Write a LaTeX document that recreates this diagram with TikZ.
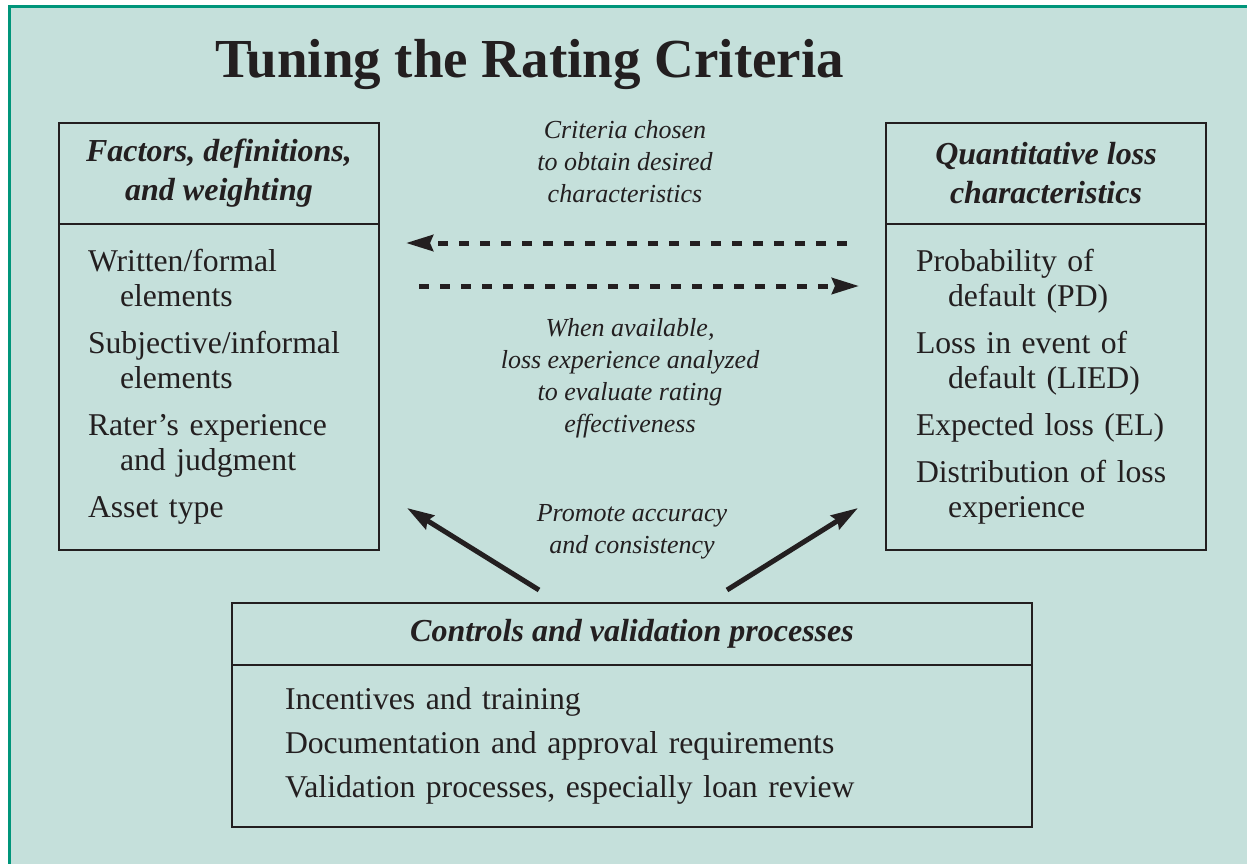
\documentclass[tikz,border=0pt]{standalone}
\usepackage{fontspec}
\setmainfont{Liberation Serif}
\usetikzlibrary{positioning,arrows.meta}

\definecolor{panelbg}{HTML}{C5E0DB}
\definecolor{panelrim}{HTML}{00957A}
\definecolor{ink}{HTML}{231F20}

% one entry of a list, second line hangs in
\newcommand{\listentry}[1]{\hangindent=32pt\hangafter=1 #1\par}
\newcommand{\listgap}[1]{\raggedright\setlength{\parindent}{0pt}\setlength{\parskip}{#1}}

\begin{document}
\begin{tikzpicture}[x=1pt,y=-1pt,
	headbox/.style={
		% The shape:
		rectangle,
		% The border:
		draw=ink, line width=2.6pt, outer sep=0pt,
		% Font
		font=\fontsize{32}{39}\selectfont\bfseries\itshape,
		align=center, text=ink
		},
	listbox/.style={
		rectangle,
		draw=ink, line width=2.6pt, outer sep=0pt,
		font=\fontsize{31.7}{35}\selectfont,
		text=ink
		},
	note/.style={
		font=\fontsize{26}{32}\selectfont\itshape,
		align=center, text=ink
		},
	dasharrow/.style={
		line width=5pt, draw=ink, dash pattern=on 10pt off 11pt,
		-{Stealth[length=27pt,width=16pt,inset=3pt]}
		},
	solidarrow/.style={
		line width=5pt, draw=ink,
		-{Stealth[length=27pt,width=16pt,inset=3pt]}
		}]

	\useasboundingbox (0,0) rectangle (1247,863);
	% panel behind everything
	\fill[panelbg] (9,6) rectangle (1270,880);
	\draw[panelrim, line width=3pt] (1270,6) -- (9,6) -- (9,880);

	\node (title) [anchor=base, text=ink, font=\fontsize{55}{60}\selectfont\bfseries] at (529.5,77) {Tuning the Rating Criteria};

	% left box
	\node (factors) [headbox, minimum width=320pt, minimum height=101pt] at (219,173.5) {Factors, definitions,\\and weighting};
	\node (factorslist) [listbox, below=0pt of factors, minimum width=320pt, minimum height=326pt, text width=262pt, inner xsep=29pt] {\listgap{12pt}%
		\listentry{Written/formal\newline elements}
		\listentry{Subjective/informal\newline elements}
		\listentry{Rater’s experience\newline and judgment}
		\listentry{Asset type}};

	% right box
	\node (quant) [headbox, minimum width=320pt, minimum height=101pt] at (1046,173.5) {Quantitative loss\\characteristics};
	\node (quantlist) [listbox, below=0pt of quant, minimum width=320pt, minimum height=326pt, text width=260pt, inner xsep=30pt] {\listgap{12pt}%
		\listentry{Probability of\newline default (PD)}
		\listentry{Loss in event of\newline default (LIED)}
		\listentry{Expected loss (EL)}
		\listentry{Distribution of loss\newline experience}};

	% bottom box
	\node (controls) [headbox, minimum width=800pt, minimum height=62pt] at (632,634) {Controls and validation processes};
	\node (controlslist) [listbox, below=0pt of controls, minimum width=800pt, minimum height=162pt, text width=694pt, inner xsep=53pt] {\listgap{9pt}%
		\listentry{Incentives and training}
		\listentry{Documentation and approval requirements}
		\listentry{Validation processes, especially loan review}};

	% labels between the boxes
	\node (chosen) [note] at (625,162) {Criteria chosen\\to obtain desired\\characteristics};
	\node (evaluate) [note] at (630,378) {When available,\\loss experience analyzed\\to evaluate rating\\effectiveness};
	\node (promote) [note] at (632,532) {Promote accuracy\\and consistency};

	\path ([yshift=-19pt]quantlist.north west) edge[dasharrow, shorten <=39pt, shorten >=27pt] ([yshift=-19pt]factorslist.north east);
	\path ([yshift=-62pt]factorslist.north east) edge[dasharrow, shorten <=40pt, shorten >=27pt] ([yshift=-62pt]quantlist.north west);
	\path ([xshift=307pt,yshift=13pt]controls.north west) edge[solidarrow] ([xshift=28pt,yshift=42pt]factorslist.south east);
	\path ([xshift=-305pt,yshift=13pt]controls.north east) edge[solidarrow] ([xshift=-28pt,yshift=42pt]quantlist.south west);

\end{tikzpicture}
\end{document}
